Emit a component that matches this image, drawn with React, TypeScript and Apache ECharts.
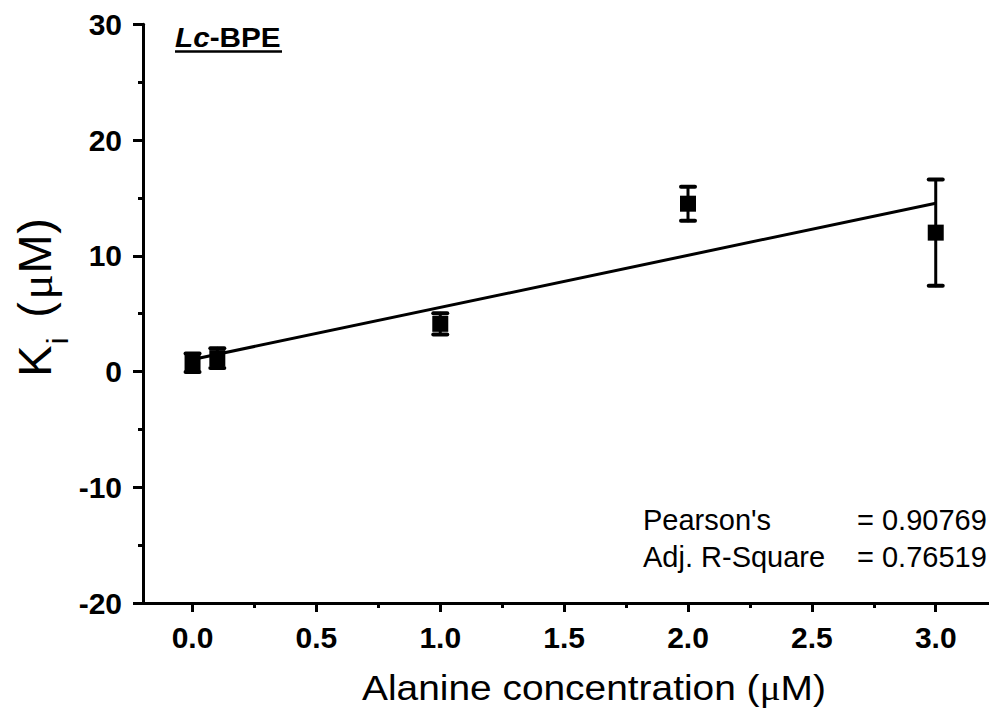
import React, { useEffect, useRef } from "react";
import * as echarts from "echarts";

const concentrations = [0, 0.1, 1, 2, 3];
const kiValues = [0.75, 1.16, 4.12, 14.5, 12.0];
const kiErrors = [0.8, 0.85, 0.92, 1.47, 4.6];
const fitX = [0, 3];
const fitY = [1.04, 14.54];
const xTickValues = [0, 0.5, 1, 1.5, 2, 2.5, 3];
const xMinorTickValues = [0.25, 0.75, 1.25, 1.75, 2.25, 2.75];
const statNames = ["Pearson's", "Adj. R-Square"];
const statValues = ["= 0.90769", "= 0.76519"];
const panelLabel = ["Lc", "-BPE"];

const SANS = "'Liberation Sans', Arial, sans-serif";
const SERIF = "'Liberation Serif', 'Times New Roman', serif";

export default function App() {
  const ref = useRef<HTMLDivElement>(null);
  useEffect(() => {
    if (!ref.current) return;
    const chart = echarts.init(ref.current, null, { renderer: "svg" });
    const black = "#000";
    const errData = concentrations.map((x, i) => [x, kiValues[i], kiErrors[i]]);
    const ptData = concentrations.map((x, i) => [x, kiValues[i]]);
    const fitData = fitX.map((x, i) => [x, fitY[i]]);

    const yTitleParts = [
      { t: "K", x: 17, y: 0, font: SANS, size: 47 },
      { t: "i", x: 37, y: 23.6, font: SANS, size: 30 },
      { t: "(", x: 68, y: 0, font: SANS, size: 47 },
      { t: "\u03bc", x: 91, y: 2, font: SERIF, size: 47 },
      { t: "M", x: 124, y: 0, font: SANS, size: 47 },
      { t: ")", x: 152, y: 0, font: SANS, size: 47 },
    ];

    const xMin = -0.2;
    const xMax = 3.215;

    const option: any = {
      animation: false,
      backgroundColor: "#fff",
      grid: { left: 143, top: 24.3, right: 0, bottom: 110, containLabel: false },
      xAxis: [
        {
          type: "value",
          min: xMin,
          max: xMax,
          position: "bottom",
          axisLine: { show: true, onZero: false, lineStyle: { color: black, width: 3 } },
          axisTick: { show: true, customValues: xTickValues, length: 9, lineStyle: { color: black, width: 3 } },
          axisLabel: {
            customValues: xTickValues,
            formatter: (v: number) => v.toFixed(1),
            fontSize: 30,
            fontWeight: "bold",
            fontFamily: SANS,
            color: black,
            margin: 19,
          },
          splitLine: { show: false },
        },
        {
          type: "value",
          min: xMin,
          max: xMax,
          position: "bottom",
          offset: 0,
          axisLine: { show: false, onZero: false },
          axisTick: { show: true, customValues: xMinorTickValues, length: 5, lineStyle: { color: black, width: 3 } },
          axisLabel: { show: false },
          splitLine: { show: false },
        },
      ],
      yAxis: {
        type: "value",
        min: -20,
        max: 30,
        interval: 10,
        axisLine: { show: true, onZero: false, lineStyle: { color: black, width: 3 } },
        axisTick: { show: true, length: 10, lineStyle: { color: black, width: 3 } },
        minorTick: { show: true, splitNumber: 2, length: 5, lineStyle: { color: black, width: 3 } },
        axisLabel: {
          fontSize: 30,
          fontWeight: "bold",
          fontFamily: SANS,
          color: black,
          margin: 21,
        },
        splitLine: { show: false },
        minorSplitLine: { show: false },
      },
      series: [
        {
          type: "line",
          data: fitData,
          showSymbol: false,
          symbol: "none",
          lineStyle: { color: black, width: 3 },
          z: 2,
        },
        {
          type: "custom",
          data: errData,
          z: 3,
          renderItem: (params: any, api: any) => {
            const x = api.value(0);
            const y = api.value(1);
            const e = api.value(2);
            const top = api.coord([x, y + e]);
            const bot = api.coord([x, y - e]);
            const hw = 7;
            const style = { stroke: black, lineWidth: 3, lineCap: "round" };
            const capStyle = { stroke: black, lineWidth: 4, lineCap: "round" };
            return {
              type: "group",
              children: [
                { type: "line", shape: { x1: top[0], y1: top[1], x2: bot[0], y2: bot[1] }, style },
                { type: "line", shape: { x1: top[0] - hw, y1: top[1], x2: top[0] + hw, y2: top[1] }, style: capStyle },
                { type: "line", shape: { x1: bot[0] - hw, y1: bot[1], x2: bot[0] + hw, y2: bot[1] }, style: capStyle },
              ],
            };
          },
        },
        {
          type: "scatter",
          data: ptData,
          symbol: "rect",
          symbolSize: 16,
          itemStyle: { color: black, opacity: 1 },
          z: 4,
        },
      ],
      graphic: [
        {
          type: "text",
          x: 175,
          y: 37,
          scaleX: 1.1,
          style: {
            text: `{it|${panelLabel[0]}}{b|${panelLabel[1]}}`,
            align: "left",
            verticalAlign: "middle",
            fill: black,
            rich: {
              it: { fontSize: 27, fontWeight: "bold", fontStyle: "italic", fontFamily: SANS, fill: black },
              b: { fontSize: 27, fontWeight: "bold", fontFamily: SANS, fill: black },
            },
          },
        },
        {
          type: "line",
          shape: { x1: 175, y1: 51.5, x2: 282, y2: 51.5 },
          style: { stroke: black, lineWidth: 2.5 },
        },
        ...statNames.map((s, i) => ({
          type: "text",
          x: 643,
          y: 520 + i * 37.3,
          style: { text: s, fontSize: 29, fontFamily: SANS, fill: black, align: "left", verticalAlign: "middle" },
        })),
        ...statValues.map((s, i) => ({
          type: "text",
          x: 857,
          y: 520 + i * 37.3,
          style: { text: s, fontSize: 29, fontFamily: SANS, fill: black, align: "left", verticalAlign: "middle" },
        })),
        {
          type: "text",
          x: 362,
          y: 688,
          scaleX: 1.08,
          style: {
            text: "{a|Alanine concentration (}{m|\u03bc}{a|M)}",
            align: "left",
            verticalAlign: "middle",
            fill: black,
            rich: {
              a: { fontSize: 36, fontFamily: SANS, fill: black },
              m: { fontSize: 36, fontFamily: SERIF, fill: black },
            },
          },
        },
        {
          type: "group",
          x: 34,
          y: 378,
          rotation: Math.PI / 2,
          children: yTitleParts.map((p) => ({
            type: "text",
            x: p.x,
            y: p.y,
            style: {
              text: p.t,
              fontSize: p.size,
              fontFamily: p.font,
              fill: black,
              align: "center",
              verticalAlign: "middle",
            },
          })),
        },
      ],
    };
    chart.setOption(option);
    return () => chart.dispose();
  }, []);
  return (
    <div
      ref={ref}
      style={{ position: "fixed", left: 0, top: 0, width: 989, height: 713, background: "#fff" }}
    />
  );
}
